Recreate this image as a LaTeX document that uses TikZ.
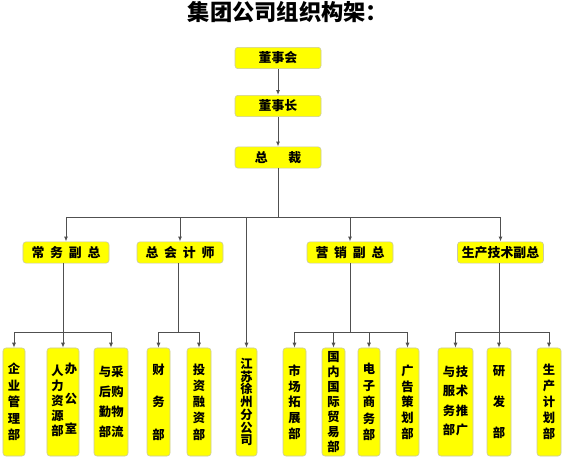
\documentclass[tikz,border=0pt]{standalone}
\usepackage{fontspec}
\usetikzlibrary{arrows.meta,positioning,calc}
\newfontfamily\cjk{Noto Sans CJK SC}
\definecolor{boxfill}{HTML}{FFFF00}
\definecolor{boxline}{HTML}{C9C9A8}
\definecolor{wire}{HTML}{505050}

\begin{document}
\begin{tikzpicture}[x=0.03cm, y=-0.03cm,
    post/.style={draw=boxline, fill=boxfill, rounded corners=2.5pt, line width=0.5pt, inner sep=0pt},
    head/.style={post, minimum width=2.58cm, minimum height=0.64cm, font=\cjk\bfseries\fontsize{11}{13}\selectfont},
    dept/.style={post, minimum width=#1, minimum height=3.24cm},
    dept/.default=0.69cm,
    vtxt/.style={align=center, inner sep=0pt, font=\cjk\bfseries\fontsize{10.5}{#1}\selectfont},
    vtxt/.default=13.6pt,
    wire/.style={draw=wire, line width=0.8pt},
    arr/.style={wire, -{Latex[length=1.5mm,width=1.2mm]}}
  ]
  \path[fill=white] (0,0) rectangle (565,460);
  \useasboundingbox (0,0) rectangle (565,460);

  \node[font=\cjk\bfseries\fontsize{19}{22}\selectfont] (title) at (288,12) {集团公司组织构架：};

  % top of the group
  \node[head] (dsh) at (278,58) {董事会};
  \node[head] (dsz) at (278,106) {董事长};
  \node[head] (zc) at (278,157.5) {总\hspace{1.6em}裁};

  % vice presidents
  \node[head] (cw) at (66,252.5) {常\hspace{0.45em}务\hspace{0.45em}副\hspace{0.45em}总};
  \node[head] (zk) at (180,252.5) {总\hspace{0.45em}会\hspace{0.45em}计\hspace{0.45em}师};
  \node[head] (yx) at (350,252.5) {营\hspace{0.45em}销\hspace{0.45em}副\hspace{0.45em}总};
  \node[head] (sc) at (500.5,252.5) {生产技术副总};

  % departments
  \node[dept=0.66cm, vtxt=14pt] (qy) at (14,402) {企\\业\\管\\理\\部};
  \node[dept=0.96cm] (rl) at (63,402) {};
  \node[vtxt=12.8pt] (rl-a) at (57.5,400.5) {人\\力\\资\\源\\部};
  \node[vtxt=25.6pt] (rl-b) at (71,398.5) {办\\公\\室};
  \node[dept=1.02cm] (cg) at (111,402) {};
  \node[vtxt=17.1pt] (cg-a) at (105,402) {与\\后\\勤\\部};
  \node[vtxt=17.1pt] (cg-b) at (117.5,402) {采\\购\\物\\流};

  \node[dept=0.69cm, vtxt=27.7pt] (cwb) at (158.5,402) {财\\务\\部};
  \node[dept=0.72cm, vtxt=13.9pt] (tz) at (199,402) {投\\资\\融\\资\\部};

  \node[dept=0.63cm, vtxt=10.9pt] (js) at (246.5,402) {江\\苏\\徐\\州\\分\\公\\司};

  \node[dept=0.69cm, vtxt=13.4pt] (sctz) at (294.5,402) {市\\场\\拓\\展\\部};
  \node[dept=0.69cm, vtxt=12.8pt] (gn) at (333.5,402) {国\\内\\国\\际\\贸\\易\\部};
  \node[dept=0.66cm, vtxt=14pt] (dz) at (369,402) {电\\子\\商\\务\\部};
  \node[dept=0.69cm, vtxt=13.4pt] (gg) at (407.5,402) {广\\告\\策\\划\\部};

  \node[dept=1.05cm] (jt) at (455.5,402) {};
  \node[vtxt=16.6pt] (jt-a) at (449,401) {与\\服\\务\\部};
  \node[vtxt=16.6pt] (jt-b) at (462,401) {技\\术\\推\\广};
  \node[dept=0.72cm, vtxt=26.5pt] (yf) at (499,402) {研\\发\\部};
  \node[dept=0.72cm, vtxt=13.6pt] (jh) at (549,402) {生\\产\\计\\划\\部};

  % connectors
  \draw[arr] (dsh) -- (dsz);
  \draw[arr] (dsz) -- (zc);

  \coordinate (bus1) at (278,217.5);
  \draw[wire] (zc) -- (bus1);
  \foreach \n in {cw,zk,js,yx,sc}
    \draw[arr] (bus1) -| (\n);

  \coordinate (bus2) at (63,332.5);
  \draw[wire] (bus2 |- cw.south) -- (bus2);
  \foreach \n in {qy,rl,cg}
    \draw[arr] (bus2) -| (\n);

  \coordinate (bus3) at (178,332.5);
  \draw[wire] (bus3 |- zk.south) -- (bus3);
  \foreach \n in {cwb,tz}
    \draw[arr] (bus3) -| (\n);

  \coordinate (bus4) at (350,332.5);
  \draw[wire] (yx) -- (bus4);
  \foreach \n in {sctz,gn,dz,gg}
    \draw[arr] (bus4) -| (\n);

  \coordinate (bus5) at (499,332.5);
  \draw[wire] (bus5 |- sc.south) -- (bus5);
  \foreach \n in {jt,yf,jh}
    \draw[arr] (bus5) -| (\n);
\end{tikzpicture}
\end{document}
